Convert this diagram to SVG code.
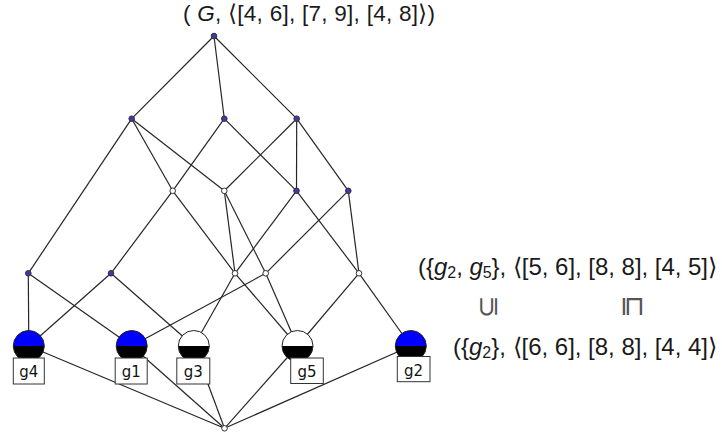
<svg xmlns="http://www.w3.org/2000/svg" width="722" height="436" viewBox="0 0 722 436">
<style>
.e{stroke:#262626;stroke-width:1.2;fill:none}
.n{stroke:#333;stroke-width:1}
.b{fill:#3a3aaa}
.w{fill:#fff}
.lb{fill:#fff;stroke:#333;stroke-width:1}
.lt{font-family:"DejaVu Sans",sans-serif;font-size:15px;fill:#111;text-anchor:middle}
.m{font-family:"Liberation Sans",Arial,sans-serif;font-size:24px;fill:#1a1a1a}
.mt{font-family:"Liberation Sans",Arial,sans-serif;font-size:22.5px;fill:#1a1a1a}
.i{font-style:italic}
.sym{font-family:"DejaVu Sans",sans-serif;font-size:27px;fill:#555;text-anchor:middle;dominant-baseline:central}
</style>
<defs>
<clipPath id="top"><rect x="-20" y="-20" width="40" height="20"/></clipPath>
<clipPath id="bot"><rect x="-20" y="0" width="40" height="20"/></clipPath>
</defs>
<g id="connectors">
<line class="e" x1="214" y1="36" x2="131.7" y2="118.7"/>
<line class="e" x1="214" y1="36" x2="224.3" y2="118.7"/>
<line class="e" x1="214" y1="36" x2="296.7" y2="118.7"/>
<line class="e" x1="131.7" y1="118.7" x2="28.3" y2="273.3"/>
<line class="e" x1="131.7" y1="118.7" x2="172.7" y2="190.8"/>
<line class="e" x1="131.7" y1="118.7" x2="224.3" y2="190.8"/>
<line class="e" x1="224.3" y1="118.7" x2="172.7" y2="190.8"/>
<line class="e" x1="224.3" y1="118.7" x2="296.5" y2="190.8"/>
<line class="e" x1="296.7" y1="118.7" x2="224.3" y2="190.8"/>
<line class="e" x1="296.7" y1="118.7" x2="296.5" y2="190.8"/>
<line class="e" x1="296.7" y1="118.7" x2="348.3" y2="190.8"/>
<line class="e" x1="172.7" y1="190.8" x2="111" y2="273.3"/>
<line class="e" x1="172.7" y1="190.8" x2="235" y2="273.3"/>
<line class="e" x1="224.3" y1="190.8" x2="235" y2="273.3"/>
<line class="e" x1="224.3" y1="190.8" x2="265.7" y2="273.3"/>
<line class="e" x1="296.5" y1="190.8" x2="235" y2="273.3"/>
<line class="e" x1="296.5" y1="190.8" x2="359" y2="273.3"/>
<line class="e" x1="348.3" y1="190.8" x2="265.7" y2="273.3"/>
<line class="e" x1="348.3" y1="190.8" x2="359" y2="273.3"/>
<line class="e" x1="28.3" y1="273.3" x2="28.8" y2="346"/>
<line class="e" x1="28.3" y1="273.3" x2="131.7" y2="346"/>
<line class="e" x1="111" y1="273.3" x2="28.8" y2="346"/>
<line class="e" x1="111" y1="273.3" x2="193.8" y2="346"/>
<line class="e" x1="235" y1="273.3" x2="193.8" y2="346"/>
<line class="e" x1="235" y1="273.3" x2="297.5" y2="346"/>
<line class="e" x1="265.7" y1="273.3" x2="131.7" y2="346"/>
<line class="e" x1="265.7" y1="273.3" x2="297.5" y2="346"/>
<line class="e" x1="359" y1="273.3" x2="297.5" y2="346"/>
<line class="e" x1="359" y1="273.3" x2="410.8" y2="346"/>
<line class="e" x1="28.8" y1="346" x2="224.5" y2="428.3"/>
<line class="e" x1="131.7" y1="346" x2="224.5" y2="428.3"/>
<line class="e" x1="193.8" y1="346" x2="224.5" y2="428.3"/>
<line class="e" x1="297.5" y1="346" x2="224.5" y2="428.3"/>
<line class="e" x1="410.8" y1="346" x2="224.5" y2="428.3"/>
</g>
<g id="n-top"><circle class="n b" cx="214" cy="36" r="2.8"/></g>
<g id="n-a"><circle class="n b" cx="131.7" cy="118.7" r="2.8"/></g>
<g id="n-b"><circle class="n b" cx="224.3" cy="118.7" r="2.8"/></g>
<g id="n-c"><circle class="n b" cx="296.7" cy="118.7" r="2.8"/></g>
<g id="n-d"><circle class="n w" cx="172.7" cy="190.8" r="2.8"/></g>
<g id="n-e"><circle class="n w" cx="224.3" cy="190.8" r="2.8"/></g>
<g id="n-f"><circle class="n b" cx="296.5" cy="190.8" r="2.8"/></g>
<g id="n-g"><circle class="n b" cx="348.3" cy="190.8" r="2.8"/></g>
<g id="n-p"><circle class="n b" cx="28.3" cy="273.3" r="2.8"/></g>
<g id="n-q"><circle class="n b" cx="111" cy="273.3" r="2.8"/></g>
<g id="n-r"><circle class="n w" cx="235" cy="273.3" r="2.8"/></g>
<g id="n-s"><circle class="n w" cx="265.7" cy="273.3" r="2.8"/></g>
<g id="n-u"><circle class="n w" cx="359" cy="273.3" r="2.8"/></g>
<g id="n-bottom"><circle class="n w" cx="224.5" cy="428.3" r="2.8"/></g>
<g id="n-g4" transform="translate(28.8,346)">
<circle r="15.5" fill="#0000ff" clip-path="url(#top)"/><circle r="15.5" fill="#000" clip-path="url(#bot)"/><circle r="15.5" fill="none" stroke="#222" stroke-width="1"/>
<rect class="lb" x="-15.5" y="12" width="31" height="26"/><text class="lt" x="0" y="31">g4</text>
</g>
<g id="n-g1" transform="translate(131.7,346)">
<circle r="15.5" fill="#0000ff" clip-path="url(#top)"/><circle r="15.5" fill="#000" clip-path="url(#bot)"/><circle r="15.5" fill="none" stroke="#222" stroke-width="1"/>
<rect class="lb" x="-16.5" y="12" width="32" height="26"/><text class="lt" x="-0.5" y="31">g1</text>
</g>
<g id="n-g3" transform="translate(193.8,346)">
<circle r="15.5" fill="#fff" clip-path="url(#top)"/><circle r="15.5" fill="#000" clip-path="url(#bot)"/><circle r="15.5" fill="none" stroke="#222" stroke-width="1"/>
<rect class="lb" x="-17" y="12" width="33" height="26"/><text class="lt" x="-0.5" y="31">g3</text>
</g>
<g id="n-g5" transform="translate(297.5,346)">
<circle r="15.5" fill="#fff" clip-path="url(#top)"/><circle r="15.5" fill="#000" clip-path="url(#bot)"/><circle r="15.5" fill="none" stroke="#222" stroke-width="1"/>
<rect class="lb" x="-6.8" y="12" width="32.6" height="25.5"/><text class="lt" x="9.5" y="31">g5</text>
</g>
<g id="n-g2" transform="translate(410.8,346)">
<circle r="15.5" fill="#0000ff" clip-path="url(#top)"/><circle r="15.5" fill="#000" clip-path="url(#bot)"/><circle r="15.5" fill="none" stroke="#222" stroke-width="1"/>
<rect class="lb" x="-13.5" y="10.5" width="32.7" height="25.2"/><text class="lt" x="2.8" y="29.5">g2</text>
</g>
<g id="labels">
<text class="mt" x="183" y="21" textLength="252" lengthAdjust="spacing">( <tspan class="i">G</tspan>, ⟨[4, 6], [7, 9], [4, 8]⟩)</text>
<text class="m" x="418" y="275" textLength="299" lengthAdjust="spacing">({<tspan class="i">g</tspan><tspan font-size="16" dy="3">2</tspan><tspan dy="-3">, </tspan><tspan class="i">g</tspan><tspan font-size="16" dy="3">5</tspan><tspan dy="-3">}, ⟨[5, 6], [8, 8], [4, 5]⟩</tspan></text>
<text class="m" x="453" y="355" textLength="264" lengthAdjust="spacing">({<tspan class="i">g</tspan><tspan font-size="16" dy="3">2</tspan><tspan dy="-3">}, ⟨[6, 6], [8, 8], [4, 4]⟩</tspan></text>
<text class="sym" transform="translate(487,306.5) rotate(-90)">⊆</text>
<text class="sym" transform="translate(634,306.5) rotate(90)">⊑</text>
</g>
</svg>
